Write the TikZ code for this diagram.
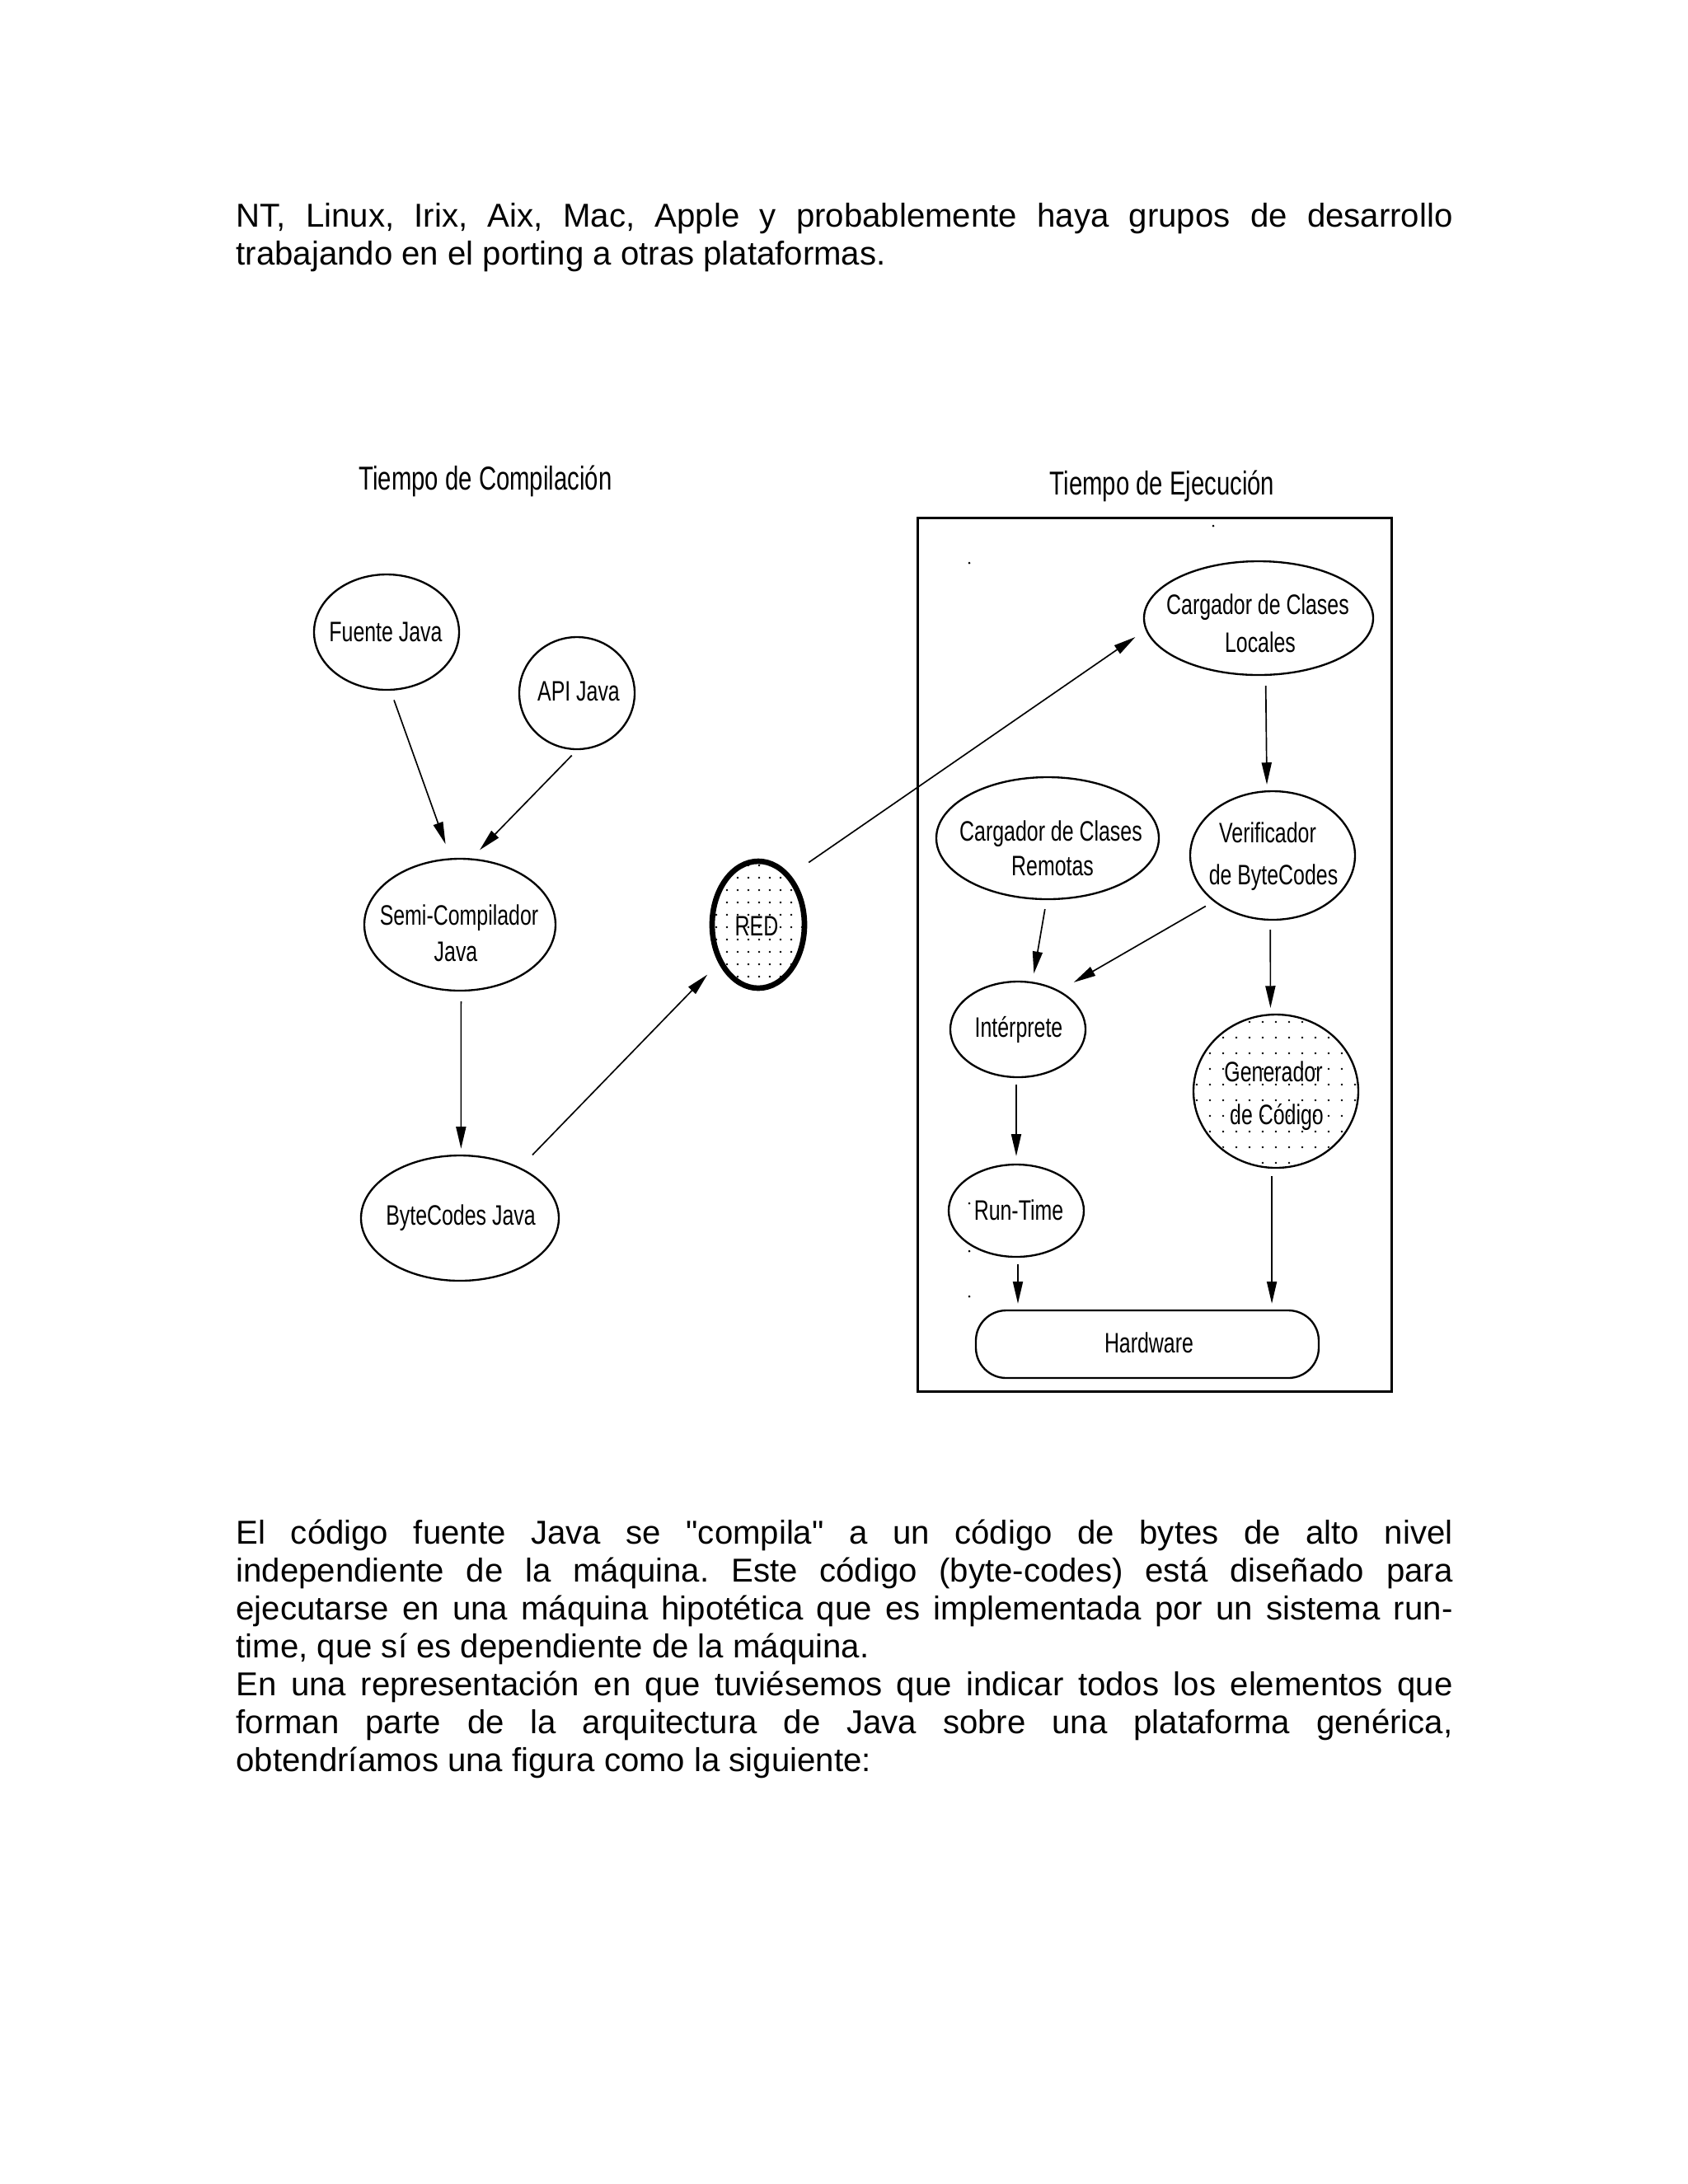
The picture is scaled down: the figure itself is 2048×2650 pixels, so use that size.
\documentclass[tikz,border=0pt]{standalone}
\usepackage{fontspec}
\setmainfont{Liberation Sans}
\newfontfamily\bodyfont{Liberation Sans}
\newfontfamily\narrowfont[FakeStretch=0.73]{Liberation Sans}
\usetikzlibrary{arrows.meta,shapes.geometric,calc}
\frenchspacing
\hyphenpenalty=10000
\exhyphenpenalty=10000
\tolerance=9999
\begin{document}
\begin{tikzpicture}[x=0.29883pt,y=-0.29883pt,
  ell/.style={draw, ellipse, line width=0.7pt, inner sep=0pt},
  esz/.style 2 args={minimum width=#1*0.59766pt, minimum height=#2*0.59766pt},
  lbl/.style={anchor=base, inner sep=0pt, font=\narrowfont\fontsize{10.2}{12}\selectfont},
  ttl/.style={anchor=base, inner sep=0pt, font=\narrowfont\fontsize{12}{14}\selectfont},
  arr/.style={-{Triangle[length=8pt,width=3.6pt]}, line width=0.5pt},
  body/.style={anchor=base west, inner sep=0pt, text width=441.07pt, align=justify,
    font=\bodyfont\fontsize{12}{13.75}\selectfont},
  speck/.style={fill=black}
]
\fill[white] (0,0) rectangle (2048,2650);
\useasboundingbox (0,0) rectangle (2048,2650);

% body text
\node[body] (p1) at (286,275) {NT, Linux, Irix, Aix, Mac, Apple y probablemente haya grupos de desarrollo\linebreak trabajando en el porting a otras plataformas.};
\node[body] (p2) at (286,1873) {El código fuente Java se "compila" a un código de bytes de alto nivel\linebreak independiente de la máquina. Este código (byte-codes) está diseñado para\linebreak ejecutarse en una máquina hipotética que es implementada por un sistema run-\linebreak time, que sí es dependiente de la máquina.\par En una representación en que tuviésemos que indicar todos los elementos que\linebreak forman parte de la arquitectura de Java sobre una plataforma genérica,\linebreak obtendríamos una figura como la siguiente:};

% titles
\node[ttl] (t1) at (589,594) {Tiempo de Compilación};
\node[ttl] (t2) at (1410,600) {Tiempo de Ejecución};

% run-time frame
\draw[line width=0.9pt] (1113,628) rectangle (1688,1688);

% stray specks
\foreach \sx/\sy in {1472/638, 1176/683, 1176/1460, 1176/1518, 1176/1573}
  \fill[speck] (\sx,\sy) circle[radius=0.45pt];

% dotted fills
\begin{scope}
  \clip (920,1122) ellipse [x radius=55, y radius=76];
  \foreach \dx in {869,882,...,975}
    \foreach \dy in {1050,1065,...,1200}
      \fill (\dx,\dy) circle[radius=0.4pt];
\end{scope}
\begin{scope}
  \clip (1548,1324) ellipse [x radius=98, y radius=91];
  \foreach \dx in {1452,1468,...,1645}
    \foreach \dy in {1240,1259,...,1415}
      \fill (\dx,\dy) circle[radius=0.4pt];
\end{scope}

% shapes
\node[ell,esz={88}{70}] (fuente) at (469,767) {};
\node[ell,esz={70}{68}] (api) at (700,841) {};
\node[ell,esz={116}{80}] (semi) at (558,1122) {};
\node[ell,esz={120}{76}] (bytec) at (558,1478) {};
\node[ell,esz={56}{77},line width=2pt] (red) at (920,1122) {};
\node[ell,esz={139}{69}] (locales) at (1527,750) {};
\node[ell,esz={135}{74}] (remotas) at (1271,1017) {};
\node[ell,esz={100}{78}] (verif) at (1544,1038) {};
\node[ell,esz={82}{58}] (interp) at (1235,1249) {};
\node[ell,esz={100}{93}] (gen) at (1548,1324) {};
\node[ell,esz={82}{56}] (runt) at (1233,1469) {};
\node[draw,line width=0.7pt,rounded corners=11pt,inner sep=0pt,
      minimum width=416*0.29883pt, minimum height=82*0.29883pt] (hw) at (1392,1631) {};

% labels
\node[lbl] (l1) at (468,778) {Fuente Java};
\node[lbl] (l2) at (702,850) {API Java};
\node[lbl] (l3a) at (557,1122) {Semi-Compilador};
\node[lbl] (l3b) at (553,1166) {Java};
\node[lbl] (l4) at (559,1486) {ByteCodes Java};
\node[lbl] (l5) at (918,1135) {RED};
\node[lbl] (l6a) at (1526,745) {Cargador de Clases};
\node[lbl] (l6b) at (1529,791) {Locales};
\node[lbl] (l7a) at (1275,1020) {Cargador de Clases};
\node[lbl] (l7b) at (1277,1062) {Remotas};
\node[lbl] (l8a) at (1538,1022) {Verificador};
\node[lbl] (l8b) at (1545,1073) {de ByteCodes};
\node[lbl] (l9) at (1236,1258) {Intérprete};
\node[lbl] (l10a) at (1545,1312) {Generador};
\node[lbl] (l10b) at (1549,1364) {de Código};
\node[lbl] (l11) at (1236,1480) {Run-Time};
\node[lbl] (l12) at (1394,1641) {Hardware};

% connectors
\draw[arr, shorten <=3.6pt, shorten >=5.4pt] (fuente.-86) -- (semi.98);
\draw[arr, shorten <=2.7pt, shorten >=4.2pt] (api.-90) -- (semi.80);
\draw[arr, shorten <=3.6pt, shorten >=2.1pt] (semi.-89) -- (bytec.89);
\draw[arr, shorten <=6.3pt, shorten >=5.8pt] (bytec.40) -- (red.-136);
\draw[arr, shorten <=8pt, shorten >=4.5pt] (red.57) -- (locales.-174);
\draw[arr, shorten <=3.6pt, shorten >=2.1pt] (locales.-83) -- (verif.95);
\draw[arr, shorten <=3.3pt, shorten >=3pt] (remotas.-91) -- (interp.73);
\draw[arr, shorten <=3.3pt, shorten >=6pt] (verif.-142) -- (interp.43);
\draw[arr, shorten <=3.3pt, shorten >=2.1pt] (verif.-92) -- (gen.94);
\draw[arr, shorten <=2.4pt, shorten >=2.7pt] (interp.-92) -- (runt.90);
\draw[arr, shorten <=2.4pt, shorten >=2.1pt] (runt.-88) -- (runt.-88 |- hw.north);
\draw[arr, shorten <=2.7pt, shorten >=2.1pt] (gen.-93) -- (gen.-93 |- hw.north);
\end{tikzpicture}
\end{document}
